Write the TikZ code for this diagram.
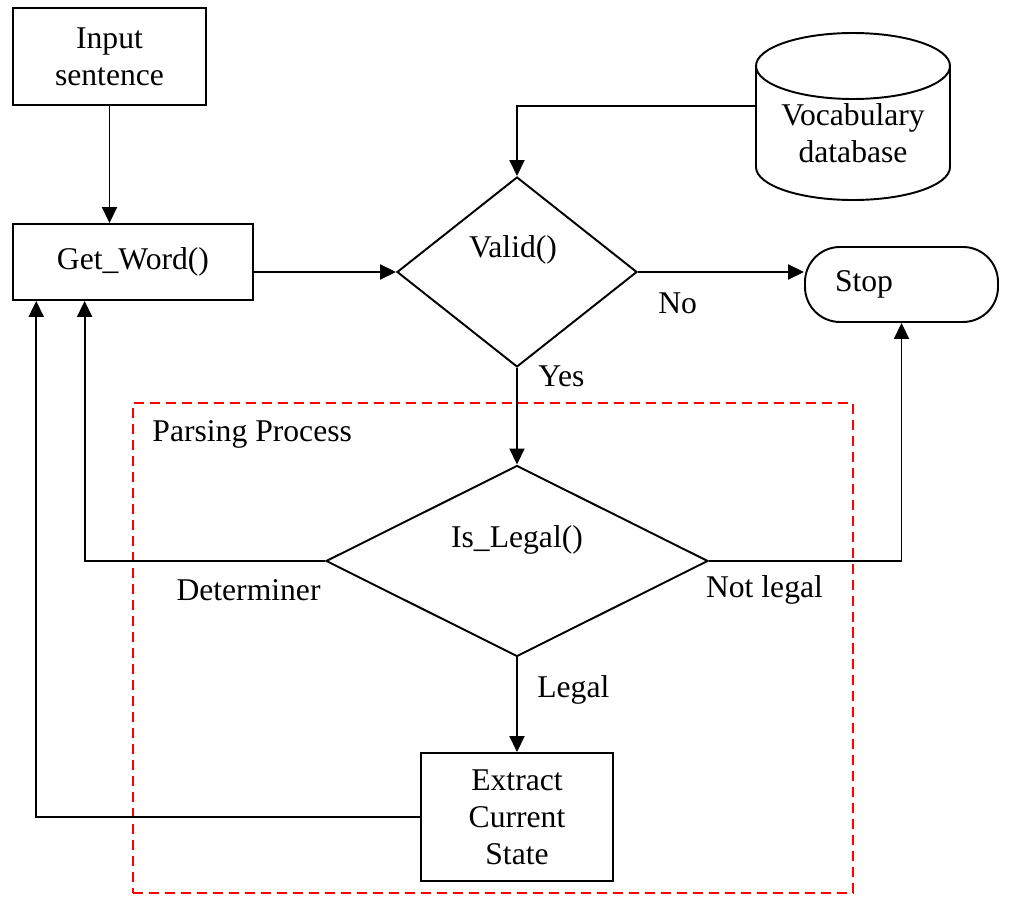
\documentclass[tikz,border=0pt]{standalone}
\usepackage{fontspec}
\setmainfont{Liberation Serif}
\usetikzlibrary{positioning,calc,fit,shapes.geometric,arrows.meta}
\definecolor{pred}{RGB}{255,0,0}

\tikzset{
    box/.style={draw=black, line width=1.1pt, align=center, inner sep=0pt},
    decision/.style={diamond, draw=black, line width=1.1pt, inner sep=0pt},
    lbl/.style={inner sep=0pt},
    flow/.style={line width=1.1pt, -{Triangle[length=0.32cm, width=0.3cm]}},
}

\begin{document}
\begin{tikzpicture}[font=\fontsize{18}{21}\selectfont]
    \useasboundingbox (0,0) rectangle (20.2,17.96);

    \coordinate (a) at (2.66,0.1);
    \coordinate (b) at (17.06,9.9);
    \node[draw=pred, line width=1pt, dash pattern=on 5.7pt off 3.4pt, fit=(a) (b), inner sep=0pt] (parsing) {};
    \node[lbl, anchor=west] (parsinglabel) at ($(parsing.north west)+(0.4,-0.64)$) {Parsing Process};

    \node[box, minimum width=3.86cm, minimum height=1.94cm] (input) at (2.19,16.83) {Input\\sentence};
    \node[box, minimum width=4.8cm, minimum height=1.52cm] (getword) at (2.66,12.72) {Get\_Word()};
    \node[decision, minimum width=4.8cm, minimum height=3.8cm] (valid) at (10.34,12.52) {};
    \node[lbl] (validtext) at ($(valid.center)+(-0.08,0.44)$) {Valid()};
    \node[cylinder, shape border rotate=90, aspect=0.46, draw=black, line width=1.1pt, align=center, inner sep=0pt,
          minimum width=3.88cm, minimum height=3.34cm] (vocab) at (17.06,15.29) {Vocabulary\\database};
    \node[box, rounded corners=0.7cm, minimum height=1.5cm, text width=2.66cm, inner xsep=0.6cm, align=left] (stop) at (18.03,12.27) {Stop};
    \node[decision, minimum width=7.64cm, minimum height=3.82cm] (islegal) at (10.34,6.74) {};
    \node[lbl] (islegaltext) at ($(islegal.center)+(0,0.42)$) {Is\_Legal()};
    \node[box, minimum width=3.84cm, minimum height=2.56cm] (extract) at (10.34,1.62) {Extract\\Current\\State};

    \draw[flow] (input.south) -- (input.south |- getword.north);
    \draw[flow] (getword.east |- valid.west) -- (valid.west);
    \draw[flow] ([yshift=0.55cm]vocab.west) -| (valid.north);
    \draw[flow] (valid.east) -- (valid.east -| stop.west);
    \draw[flow] (valid.south) -- (islegal.north);
    \draw[flow] (islegal.west) -| ($(getword.south west)!0.3!(getword.south east)$);
    \draw[flow] (islegal.east) -| (stop.south);
    \draw[flow] (islegal.south) -- (extract.north);
    \draw[flow] (extract.west) -| ($(getword.south west)!0.1!(getword.south east)$);

    \node[lbl, anchor=west] (nolabel) at ($(valid.east)+(0.4,-0.62)$) {No};
    \node[lbl, anchor=west] (yeslabel) at ($(valid.south)+(0.42,-0.16)$) {Yes};
    \node[lbl] (detlabel) at ($(islegal.west)+(-1.53,-0.58)$) {Determiner};
    \node[lbl] (notlegallabel) at ($(islegal.east)+(1.11,-0.58)$) {Not legal};
    \node[lbl, anchor=west] (legallabel) at ($(islegal.south)+(0.4,-0.64)$) {Legal};
\end{tikzpicture}
\end{document}
